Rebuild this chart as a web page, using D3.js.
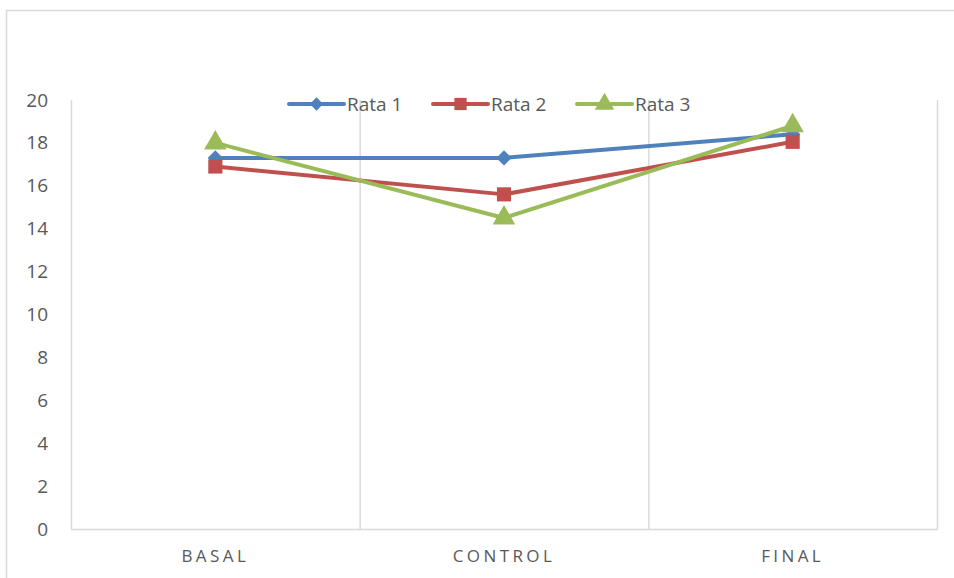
<!DOCTYPE html>
<html><head><meta charset="utf-8">
<script src="https://cdn.jsdelivr.net/npm/d3@7"></script>
<style>body{margin:0;background:#fff}svg{display:block}</style>
</head><body><svg id="c" width="954" height="578"></svg>
<script>
const categories = ["BASAL", "CONTROL", "FINAL"];
const seriesNames = ["Rata 1", "Rata 2", "Rata 3"];
const rata1 = [17.3, 17.3, 18.4];
const rata2 = [16.9, 15.6, 18.05];
const rata3 = [18.0, 14.5, 18.8];
const yTicks = [0, 2, 4, 6, 8, 10, 12, 14, 16, 18, 20];

(function () {
const colors = ["#4f81bd", "#c0504d", "#9bbb59"];
const symbols = [d3.symbolDiamond2, d3.symbolSquare, d3.symbolTriangle];
const symbolSizes = [150, 200, 220];

const series = [rata1, rata2, rata3];
const svg = d3.select("#c");
const W = 954, H = 578;
const pL = 71, pR = 937, pT = 100, pB = 529;
const txt = "#595959", grid = "#d9d9d9";

// outer chart border
svg.append("path").attr("d", `M6.5,${H+5} V10.5 H${W+5}`).attr("fill","none").attr("stroke", grid).attr("stroke-width",1.5);

const x = d3.scaleBand().domain(categories).range([pL, pR]).padding(0);
const y = d3.scaleLinear().domain([0, 20]).range([pB, pT]);

// vertical gridlines at category boundaries
const bounds = categories.map(c => x(c)).concat([pR]);
svg.append("g").selectAll("line").data(bounds).join("line")
  .attr("x1", d => d + 0.5).attr("x2", d => d + 0.5)
  .attr("y1", pT).attr("y2", pB)
  .attr("stroke", grid).attr("stroke-width", 1.5);

// x axis
const xAxis = svg.append("g").attr("transform", `translate(0,${pB + 0.5})`)
  .call(d3.axisBottom(x).tickSize(0).tickPadding(20));
xAxis.select(".domain").attr("stroke", grid).attr("stroke-width", 1.5).attr("d", `M${pL},0H${pR + 1}`);
xAxis.selectAll("text").attr("fill", txt).style("font-family", "'Open Sans', sans-serif")
  .style("font-size", "17px").style("letter-spacing", "3.4px").attr("dy", "0.71em");

// y axis
const yAxis = svg.append("g").attr("transform", `translate(${pL},0)`)
  .call(d3.axisLeft(y).tickValues(yTicks).tickSize(0).tickPadding(23));
yAxis.select(".domain").remove();
yAxis.selectAll("text").attr("fill", txt).style("font-family", "'Open Sans', sans-serif").style("font-size", "19px");

// lines
const line = d3.line().x((d, i) => x(categories[i]) + x.bandwidth() / 2).y(d => y(d));
series.forEach((s, k) => {
  svg.append("path").datum(s).attr("d", line).attr("fill", "none")
    .attr("stroke", colors[k]).attr("stroke-width", 4).attr("stroke-linejoin", "round").attr("stroke-linecap","round");
  svg.append("g").selectAll("path").data(s).join("path")
    .attr("transform", (d, i) => `translate(${x(categories[i]) + x.bandwidth() / 2},${y(d)})`)
    .attr("d", d3.symbol().type(symbols[k]).size(symbolSizes[k]))
    .attr("fill", colors[k]);
});

// legend
const legX = [289, 433, 577];
const legY = 104;
seriesNames.forEach((n, k) => {
  const g = svg.append("g").attr("transform", `translate(${legX[k]},${legY})`);
  g.append("line").attr("x1", 0).attr("x2", 55).attr("stroke", colors[k]).attr("stroke-width", 4).attr("stroke-linecap","round");
  g.append("path").attr("transform", "translate(27.5,0)")
    .attr("d", d3.symbol().type(symbols[k]).size(symbolSizes[k] * 0.75)).attr("fill", colors[k]);
  g.append("text").attr("x", 58).attr("dy", "0.36em").text(n).attr("fill", txt)
    .style("font-family", "'Open Sans', sans-serif").style("font-size", "19px");
});
})();
</script></body></html>
